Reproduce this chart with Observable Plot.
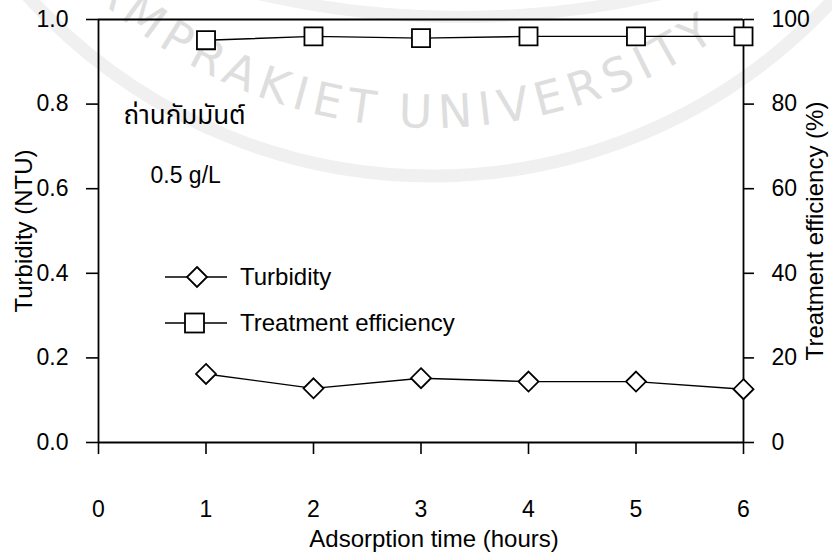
<!DOCTYPE html>
<html>
<head>
<meta charset="utf-8">
<script src="https://cdn.jsdelivr.net/npm/d3@7"></script>
<script src="https://cdn.jsdelivr.net/npm/@observablehq/plot@0.6"></script>
<style>
  html, body { margin: 0; padding: 0; background: #fff; }
  svg { display: block; }
</style>
</head>
<body>
<div id="chart"></div>
<script>
// Adsorption time (hours)
const hours = [1, 2, 3, 4, 5, 6];
// Residual turbidity (NTU)
const turbidity = [0.162, 0.128, 0.152, 0.144, 0.144, 0.126];
// Treatment efficiency (%)
const efficiency = [95.1, 96.0, 95.6, 96.0, 96.0, 96.0];

const xTicks = [0, 1, 2, 3, 4, 5, 6];
const leftTicks = [0, 0.2, 0.4, 0.6, 0.8, 1.0];
const rightTicks = [0, 20, 40, 60, 80, 100];

const seriesNames = ["Turbidity", "Treatment efficiency"];
const titles = {x: "Adsorption time (hours)", left: "Turbidity (NTU)", right: "Treatment efficiency (%)"};
const notes = ["ถ่านกัมมันต์", "0.5 g/L"];

const rows = hours.map((h, i) => ({h, turb: turbidity[i], eff: efficiency[i]}));

const FONT = "'Liberation Sans', Arial, 'Noto Sans Thai', 'Noto Sans', sans-serif";
const FS = 23;   // tick labels
const TFS = 24;  // titles and legend

const chart = Plot.plot({
  width: 832,
  height: 552,
  marginLeft: 98,
  marginRight: 89,
  marginTop: 19,
  marginBottom: 110,
  style: {fontFamily: FONT, fontSize: FS + "px", color: "#000", background: "#fff", overflow: "visible"},
  x: {domain: [0, 6]},
  y: {domain: [0, 1]},
  marks: [
    Plot.axisY(leftTicks, {
      anchor: "left", tickSize: 12, tickPadding: 18, strokeWidth: 1.6,
      tickFormat: d3.format(".1f"), label: null
    }),
    Plot.axisY(rightTicks.map(v => v / 100), {
      anchor: "right", tickSize: 10, tickPadding: 18, strokeWidth: 1.6,
      tickFormat: d => Math.round(d * 100), label: null
    }),
    Plot.axisX(xTicks, {
      anchor: "bottom", tickSize: 12, tickPadding: 46, strokeWidth: 1.6, label: null
    }),
    // axis titles
    Plot.text([titles.left], {text: d => d, frameAnchor: "left", dx: -74, rotate: -90, textAnchor: "middle", fontSize: TFS, fill: "#000"}),
    Plot.text([titles.right], {text: d => d, frameAnchor: "right", dx: 72, rotate: -90, textAnchor: "middle", fontSize: TFS, fill: "#000"}),
    Plot.text([titles.x], {text: d => d, frameAnchor: "bottom", dx: 13, dy: 104, textAnchor: "middle", fontSize: TFS, fill: "#000"}),
    // plot frame
    Plot.ruleX([0, 6], {stroke: "#000", strokeWidth: 1.8}),
    Plot.ruleY([0, 1], {stroke: "#000", strokeWidth: 1.8}),
    // treatment efficiency, read against the right axis
    Plot.line(rows, {x: "h", y: d => d.eff / 100, stroke: "#000", strokeWidth: 1.4}),
    Plot.dot(rows, {x: "h", y: d => d.eff / 100, symbol: "square", r: 10.2, fill: "#fff", stroke: "#000", strokeWidth: 1.8}),
    // turbidity, read against the left axis
    Plot.line(rows, {x: "h", y: "turb", stroke: "#000", strokeWidth: 1.4}),
    Plot.dot(rows, {x: "h", y: "turb", symbol: "diamond2", r: 9, fill: "#fff", stroke: "#000", strokeWidth: 1.8}),
    // sample notes
    Plot.text([notes[0]], {text: d => d, frameAnchor: "top-left", dx: 25, dy: 86, textAnchor: "start", fontSize: 26, fill: "#000"}),
    Plot.text([notes[1]], {text: d => d, frameAnchor: "top-left", dx: 52, dy: 147.5, textAnchor: "start", fontSize: FS, fill: "#000"})
  ]
});

document.getElementById("chart").appendChild(chart);

const svg = d3.select(chart);

// faint institutional seal printed behind the chart
const wm = svg.insert("g", "g").attr("class", "seal").attr("pointer-events", "none");
const cx = 432, cy = -368, rText = 496;
wm.append("circle").attr("cx", cx).attr("cy", cy).attr("r", 544)
  .attr("fill", "none").attr("stroke", "#f0f0f0").attr("stroke-width", 13);
wm.append("circle").attr("cx", 460).attr("cy", -872).attr("r", 889)
  .attr("fill", "none").attr("stroke", "#f1f1f1").attr("stroke-width", 12);
wm.append("path").attr("id", "seal-arc").attr("fill", "none")
  .attr("d", `M${cx - rText},${cy} A${rText},${rText} 0 0 0 ${cx + rText},${cy}`);
const sealText = (label, offset, anchor) => wm.append("text")
  .attr("font-family", "'DejaVu Sans', sans-serif").attr("font-size", 46)
  .attr("letter-spacing", 7).attr("fill", "#dedede")
  .append("textPath").attr("href", "#seal-arc")
  .attr("startOffset", offset).attr("text-anchor", anchor).text(label);
sealText("CHALERMPRAKIET", 727, "end");
sealText("UNIVERSITY", 745, "start");

// legend
const legend = svg.append("g").attr("class", "legend");
const legendRows = [
  {name: seriesNames[0], y: 277, cx: 197, shape: "diamond"},
  {name: seriesNames[1], y: 323, cx: 194.5, shape: "square"}
];
legendRows.forEach(e => {
  legend.append("line").attr("x1", 165).attr("x2", 227).attr("y1", e.y).attr("y2", e.y)
    .attr("stroke", "#000").attr("stroke-width", 1.4);
  if (e.shape === "diamond") {
    legend.append("path")
      .attr("d", `M${e.cx},${e.y - 10}L${e.cx + 10},${e.y}L${e.cx},${e.y + 10}L${e.cx - 10},${e.y}Z`)
      .attr("fill", "#fff").attr("stroke", "#000").attr("stroke-width", 1.8);
  } else {
    legend.append("rect").attr("x", e.cx - 9.5).attr("y", e.y - 9.5).attr("width", 19).attr("height", 19)
      .attr("fill", "#fff").attr("stroke", "#000").attr("stroke-width", 1.8);
  }
  legend.append("text").attr("x", 240).attr("y", e.y).attr("dy", "0.35em")
    .attr("text-anchor", "start")
    .attr("font-family", FONT).attr("font-size", TFS).attr("fill", "#000").text(e.name);
});
</script>
</body>
</html>
